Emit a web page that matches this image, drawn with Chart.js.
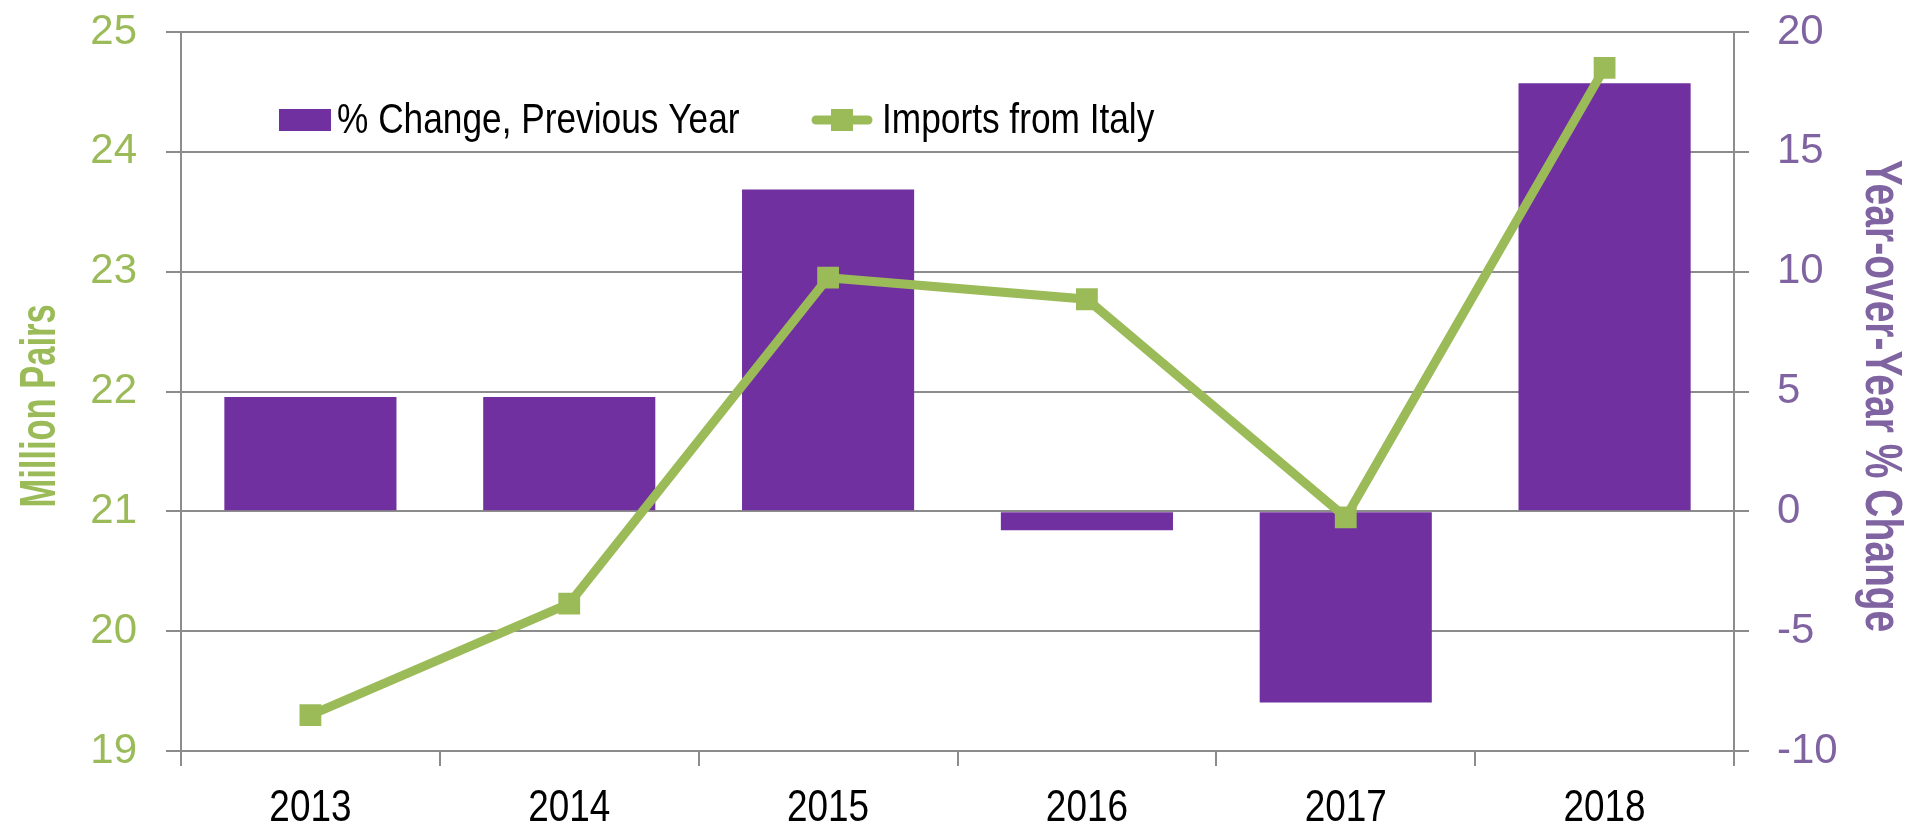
<!DOCTYPE html>
<html>
<head>
<meta charset="utf-8">
<script src="https://cdn.jsdelivr.net/npm/chart.js@4"></script>
<style>
  body { margin: 0; background: #fff; }
  #wrap { width: 1915px; height: 830px; }
</style>
</head>
<body>
<div id="wrap"><canvas id="comboChart"></canvas></div>
<script>
        var years = ['2013', '2014', '2015', '2016', '2017', '2018'];
        var pctChange = [4.77, 4.77, 13.43, -0.79, -7.98, 17.86];
        var imports = [19.30, 20.23, 22.95, 22.77, 20.95, 24.70];
        var leftTicks = [19, 20, 21, 22, 23, 24, 25];
        var rightTicks = [-10, -5, 0, 5, 10, 15, 20];
        var leftTitle = 'Million Pairs';
        var rightTitle = 'Year-over-Year % Change';

        var fam = "'Liberation Sans', Arial, sans-serif";
        var green = '#9BBB59';
        var purple = '#7030A0';
        var lightPurple = '#8064A2';
        var gridGray = '#8c8c8c';

        // Excel draws these in a narrow face; squeeze the text horizontally
        function squeezed(c, text, x, y, font, sx, align) {
            c.save();
            c.translate(x, y);
            c.scale(sx, 1);
            c.font = font;
            c.textAlign = align || 'left';
            c.textBaseline = 'alphabetic';
            c.fillText(text, 0, 0);
            c.restore();
        }

        var narrowText = {
            id: 'narrowText',
            afterDraw: function (chart) {
                var c = chart.ctx;
                var xs = chart.scales.x;
                var bar = chart.data.datasets[0];
                var line = chart.data.datasets[1];

                // category labels
                c.fillStyle = '#000';
                chart.data.labels.forEach(function (lab, i) {
                    squeezed(c, lab, xs.getPixelForTick(i), 821, '45px ' + fam, 0.82, 'center');
                });

                // axis titles
                c.save();
                c.translate(55, 406);
                c.rotate(-Math.PI / 2);
                c.fillStyle = green;
                squeezed(c, leftTitle, 0, 0, 'bold 50px ' + fam, 0.69, 'center');
                c.restore();

                c.save();
                c.translate(1866, 396);
                c.rotate(Math.PI / 2);
                c.fillStyle = lightPurple;
                squeezed(c, rightTitle, 0, 0, 'bold 52px ' + fam, 0.75, 'center');
                c.restore();

                // legend inside the plot area
                c.save();
                c.fillStyle = bar.backgroundColor;
                c.fillRect(279, 109, 52, 22);
                c.fillStyle = '#000';
                squeezed(c, bar.label, 337, 133, '43px ' + fam, 0.82);
                c.strokeStyle = line.borderColor;
                c.lineWidth = 9;
                c.lineCap = 'round';
                c.beginPath();
                c.moveTo(816, 120);
                c.lineTo(868, 120);
                c.stroke();
                c.fillStyle = line.borderColor;
                c.fillRect(831, 109, 22, 22);
                c.fillStyle = '#000';
                squeezed(c, line.label, 882, 133, '43px ' + fam, 0.82);
                c.restore();
            }
        };

        function fixY(scale) {
            scale.width = 181;
            scale.paddingTop = 0;
            scale.paddingBottom = 0;
        }

        var ctx1 = document.getElementById('comboChart').getContext('2d');
        var comboChart = new Chart(ctx1, {
            type: 'bar',
            data: {
                labels: years,
                datasets: [{
                    type: 'bar',
                    label: '% Change, Previous Year',
                    data: pctChange,
                    yAxisID: 'yRight',
                    backgroundColor: purple,
                    borderWidth: 0,
                    barPercentage: 0.665,
                    categoryPercentage: 1,
                    order: 1
                }, {
                    type: 'line',
                    label: 'Imports from Italy',
                    data: imports,
                    yAxisID: 'yLeft',
                    borderColor: green,
                    backgroundColor: green,
                    borderWidth: 9,
                    pointStyle: 'rect',
                    pointRadius: 14,
                    pointBorderWidth: 2,
                    fill: false,
                    tension: 0,
                    order: 0
                }]
            },
            options: {
                responsive: true,
                maintainAspectRatio: false,
                animation: false,
                layout: { padding: { top: 32, left: 0, right: 0, bottom: 0 } },
                plugins: {
                    legend: { display: false },
                    tooltip: { enabled: false }
                },
                scales: {
                    x: {
                        offset: true,
                        grid: {
                            offset: true,
                            drawOnChartArea: false,
                            drawTicks: true,
                            tickLength: 15,
                            color: gridGray,
                            lineWidth: 2
                        },
                        border: { display: true, color: gridGray, width: 2 },
                        ticks: { display: false },
                        afterFit: function (scale) { scale.height = 79; }
                    },
                    yLeft: {
                        position: 'left',
                        min: leftTicks[0],
                        max: leftTicks[leftTicks.length - 1],
                        afterBuildTicks: function (scale) {
                            scale.ticks = leftTicks.map(function (v) { return { value: v }; });
                        },
                        grid: {
                            color: gridGray,
                            lineWidth: 2,
                            tickLength: 15
                        },
                        border: { display: true, color: gridGray, width: 2 },
                        ticks: {
                            color: green,
                            padding: 29,
                            font: { family: fam, size: 42 }
                        },
                        afterFit: fixY
                    },
                    yRight: {
                        position: 'right',
                        min: rightTicks[0],
                        max: rightTicks[rightTicks.length - 1],
                        afterBuildTicks: function (scale) {
                            scale.ticks = rightTicks.map(function (v) { return { value: v }; });
                        },
                        grid: {
                            drawOnChartArea: false,
                            color: gridGray,
                            lineWidth: 2,
                            tickLength: 15
                        },
                        border: { display: true, color: gridGray, width: 2 },
                        ticks: {
                            color: lightPurple,
                            padding: 28,
                            font: { family: fam, size: 42 }
                        },
                        afterFit: fixY
                    }
                }
            },
            plugins: [narrowText]
        });
</script>
</body>
</html>
